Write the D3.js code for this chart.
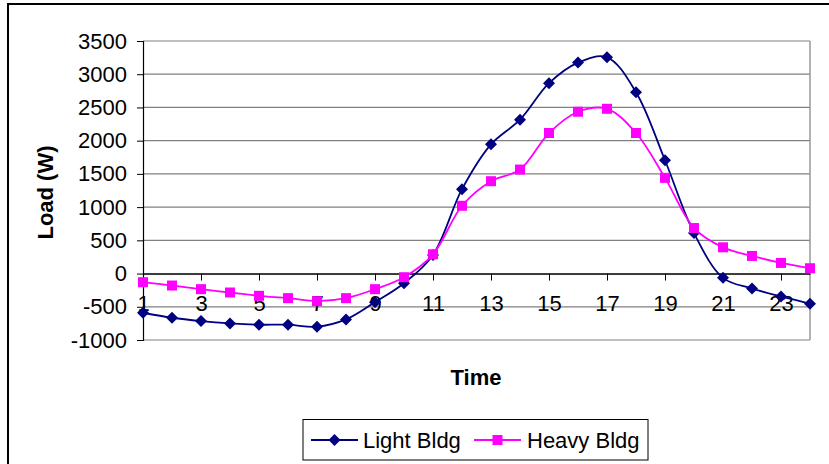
<!DOCTYPE html>
<html>
<head>
<meta charset="utf-8">
<script src="https://cdn.jsdelivr.net/npm/d3@7/dist/d3.min.js"></script>
<style>
  html, body { margin: 0; padding: 0; background: #fff; }
  svg { display: block; font-family: "Liberation Sans", Arial, sans-serif; }
</style>
</head>
<body>
<svg id="chart" width="829" height="464"></svg>
<script>
// Hourly load profile for two building types
const hours = d3.range(1, 25);
const lightBldg = [-590, -665, -715, -750, -770, -770, -800, -690, -430, -145,
                   280, 1270, 1945, 2315, 2865, 3175, 3255, 2730, 1705, 610,
                   -65, -225, -345, -455];
const heavyBldg = [-130, -180, -235, -285, -335, -370, -415, -370, -235, -55,
                   290, 1020, 1390, 1565, 2115, 2435, 2480, 2115, 1440, 685,
                   395, 265, 160, 80];
const yTicks = [-1000, -500, 0, 500, 1000, 1500, 2000, 2500, 3000, 3500];
const xTickLabels = [1, 3, 5, 7, 9, 11, 13, 15, 17, 19, 21, 23];

const series = [
  { name: "Light Bldg", values: lightBldg, color: "#000080", marker: "diamond" },
  { name: "Heavy Bldg", values: heavyBldg, color: "#FF00FF", marker: "square" }
];

const FONT = "Liberation Sans, Arial, sans-serif";
const FS = 22;

const svg = d3.select("#chart");
const plot = { left: 143, right: 810, top: 41, bottom: 340 };

const x = d3.scalePoint().domain(hours).range([plot.left, plot.right]);
const y = d3.scaleLinear().domain([-1000, 3500]).range([plot.bottom, plot.top]);

// outer chart frame (top and left edges visible)
svg.append("path")
  .attr("d", `M8,464 L8,4 L829,4`)
  .attr("fill", "none").attr("stroke", "#000").attr("stroke-width", 2);

// horizontal gridlines
svg.append("g").selectAll("line").data(yTicks).join("line")
  .attr("x1", plot.left).attr("x2", plot.right)
  .attr("y1", d => y(d)).attr("y2", d => y(d))
  .attr("stroke", "#808080").attr("stroke-width", 1.2);

// plot area right edge
svg.append("line")
  .attr("x1", plot.right).attr("x2", plot.right)
  .attr("y1", plot.top).attr("y2", plot.bottom)
  .attr("stroke", "#999").attr("stroke-width", 1.5);

// y axis
const yAxis = svg.append("g")
  .attr("transform", `translate(${plot.left},0)`)
  .call(d3.axisLeft(y).tickValues(yTicks).tickFormat(d => String(d))
    .tickSize(6).tickPadding(10));
yAxis.select(".domain").attr("stroke", "#000").attr("stroke-width", 1.2);
yAxis.selectAll(".tick line").attr("stroke", "#000");
yAxis.selectAll(".tick text")
  .attr("font-size", FS).attr("fill", "#000").attr("font-family", FONT);

// x axis crossing at zero
const xAxis = svg.append("g")
  .attr("transform", `translate(0,${y(0)})`)
  .call(d3.axisBottom(x).tickValues(xTickLabels).tickFormat(d => String(d))
    .tickSize(7).tickPadding(15).tickSizeOuter(0));
xAxis.select(".domain").attr("stroke", "#000").attr("stroke-width", 1.2);
xAxis.selectAll(".tick line").attr("stroke", "#000");
xAxis.selectAll(".tick text")
  .attr("font-size", FS).attr("fill", "#000").attr("font-family", FONT);

// axis titles
svg.append("text")
  .attr("transform", `translate(53,${(plot.top + plot.bottom) / 2 + 2}) rotate(-90)`)
  .attr("text-anchor", "middle")
  .attr("font-size", FS).attr("font-weight", "bold")
  .text("Load (W)");
svg.append("text")
  .attr("x", 476).attr("y", 385)
  .attr("text-anchor", "middle")
  .attr("font-size", FS).attr("font-weight", "bold")
  .text("Time");

// smoothed series lines
const line = d3.line()
  .x((d, i) => x(hours[i]))
  .y(d => y(d))
  .curve(d3.curveCatmullRom.alpha(0.5));

const diamond = s => `M0,${-s} L${s},0 L0,${s} L${-s},0 Z`;
const square = s => `M${-s},${-s} H${s} V${s} H${-s} Z`;
const markerPath = (m) => m === "diamond" ? diamond(6) : square(5);

series.forEach(sr => {
  const g = svg.append("g");
  g.append("path")
    .attr("d", line(sr.values))
    .attr("fill", "none").attr("stroke", sr.color).attr("stroke-width", 1.8);
  g.selectAll("path.pt").data(sr.values).join("path")
    .attr("class", "pt")
    .attr("transform", (d, i) => `translate(${x(hours[i])},${y(d)})`)
    .attr("d", markerPath(sr.marker))
    .attr("fill", sr.color);
});

// legend
const legend = svg.append("g");
legend.append("rect")
  .attr("x", 303).attr("y", 419.5).attr("width", 345).attr("height", 40.5)
  .attr("fill", "#fff").attr("stroke", "#000").attr("stroke-width", 1);
const legendItems = [
  { x0: 311, tx: 363 },
  { x0: 474, tx: 527 }
];
series.forEach((sr, i) => {
  const it = legendItems[i];
  const ly = 440;
  legend.append("line")
    .attr("x1", it.x0).attr("x2", it.x0 + 47)
    .attr("y1", ly).attr("y2", ly)
    .attr("stroke", sr.color).attr("stroke-width", 1.8);
  legend.append("path")
    .attr("transform", `translate(${it.x0 + 23.5},${ly})`)
    .attr("d", markerPath(sr.marker))
    .attr("fill", sr.color);
  legend.append("text")
    .attr("x", it.tx).attr("y", 447.5)
    .attr("font-size", FS).attr("fill", "#000")
    .text(sr.name);
});
</script>
</body>
</html>
